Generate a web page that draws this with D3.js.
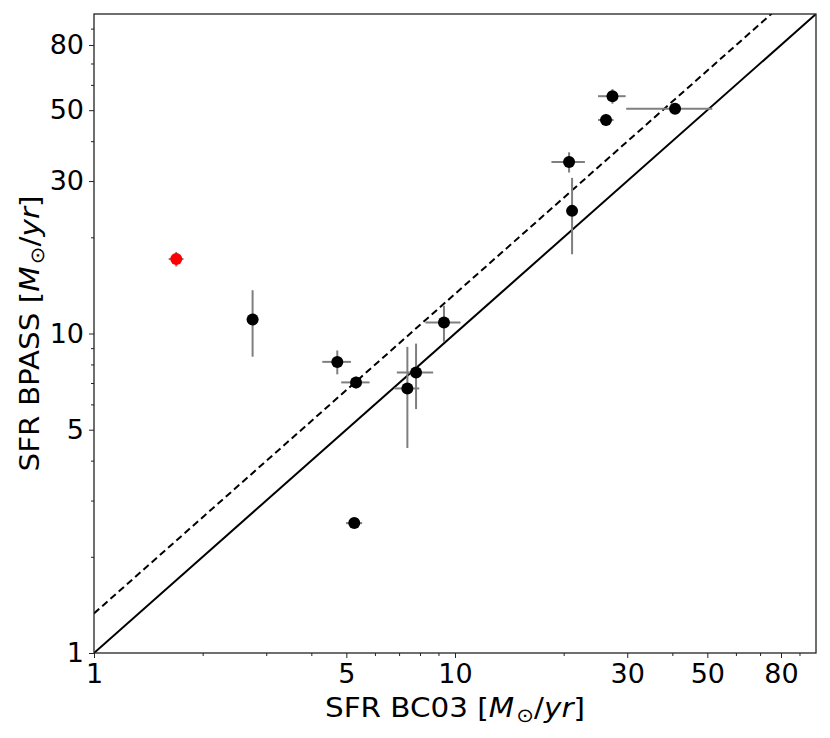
<!doctype html>
<html>
<head>
<meta charset="utf-8"/>
<script src="https://cdnjs.cloudflare.com/ajax/libs/d3/7.8.5/d3.min.js"></script>
<style>
  body { margin: 0; background: #fff; }
  text { font-family: "DejaVu Sans", sans-serif; fill: #000; }
  .errbar { stroke: #7f7f7f; stroke-width: 2px; }
</style>
</head>
<body>
<svg width="830" height="738"></svg>
<script>
// SFR from BC03 (x) and BPASS (y), in M_sun/yr
var sfrBC03    = [1.69, 2.75, 4.72, 5.32, 7.38, 7.80, 9.32, 5.26, 20.7, 21.1, 26.2, 27.3, 40.7];
var sfrBC03Err = [0.08, 0.10, 0.43, 0.48, 0.58, 0.90, 1.04, 0.27, 2.2, 0.5, 1.3, 2.4, 10.9];
var sfrBPASS    = [17.1, 11.06, 8.15, 7.03, 6.73, 7.55, 10.82, 2.55, 34.4, 24.2, 46.6, 55.3, 50.5];
var sfrBPASSErr = [0.9, 2.6, 0.7, 0.3, 2.35, 1.75, 1.4, 0.05, 2.5, 6.5, 2.0, 2.9, 1.0];
var pointColor  = ["red", "black", "black", "black", "black", "black", "black", "black", "black", "black", "black", "black", "black"];

var majorTicks = [1, 5, 10, 30, 50, 80];
var minorTicks = [2, 3, 4, 6, 7, 8, 9, 20, 40, 60, 70, 90];
var axisRange  = [1, 100];
var offsetFactor = 1.33;   // dashed line: y = 1.33 x

var mLeft = 94, mRight = 816, mTop = 14, mBottom = 653;
var labelStretch = 1.09;

var svg = d3.select("svg");

var x = d3.scaleLog().domain(axisRange).range([mLeft, mRight]);
var y = d3.scaleLog().domain(axisRange).range([mBottom, mTop]);

var points = sfrBC03.map((v, i) => ({
  x: v, xe: sfrBC03Err[i], y: sfrBPASS[i], ye: sfrBPASSErr[i], c: pointColor[i]
}));

// minor ticks
svg.append("g")
  .attr("transform", "translate(0," + mBottom + ")")
  .call(d3.axisBottom(x).tickValues(minorTicks).tickSize(3).tickFormat(""))
  .call(g => g.select(".domain").remove());
svg.append("g")
  .attr("transform", "translate(" + mLeft + ",0)")
  .call(d3.axisLeft(y).tickValues(minorTicks).tickSize(3).tickFormat(""))
  .call(g => g.select(".domain").remove());

// major ticks
var xAxis = svg.append("g")
  .attr("transform", "translate(0," + mBottom + ")")
  .call(d3.axisBottom(x).tickValues(majorTicks).tickSize(5).tickPadding(6).tickFormat(d3.format("d")));
xAxis.select(".domain").remove();
xAxis.selectAll("text").attr("font-size", 27);

var yAxis = svg.append("g")
  .attr("transform", "translate(" + mLeft + ",0)")
  .call(d3.axisLeft(y).tickValues(majorTicks).tickSize(5).tickPadding(5).tickFormat(d3.format("d")));
yAxis.select(".domain").remove();
yAxis.selectAll("text").attr("font-size", 27);

svg.selectAll(".tick line").attr("stroke", "#222");

// plot area, clipped
svg.append("clipPath").attr("id", "clip")
  .append("rect").attr("x", mLeft).attr("y", mTop).attr("width", mRight - mLeft).attr("height", mBottom - mTop);
var plotArea = svg.append("g").attr("clip-path", "url(#clip)");

// reference lines
var line = d3.line().x(d => x(d[0])).y(d => y(d[1]));
plotArea.append("path")
  .datum(axisRange.map(v => [v, v]))
  .attr("d", line)
  .attr("fill", "none").attr("stroke", "#000").attr("stroke-width", 2);
plotArea.append("path")
  .datum(axisRange.map(v => [v, v * offsetFactor]))
  .attr("d", line)
  .attr("fill", "none").attr("stroke", "#000").attr("stroke-width", 2)
  .attr("stroke-dasharray", "7,4");

// error bars
plotArea.selectAll(".xerr").data(points).enter().append("line")
  .attr("class", "errbar")
  .attr("x1", d => x(d.x - d.xe)).attr("x2", d => x(d.x + d.xe))
  .attr("y1", d => y(d.y)).attr("y2", d => y(d.y));
plotArea.selectAll(".yerr").data(points).enter().append("line")
  .attr("class", "errbar")
  .attr("x1", d => x(d.x)).attr("x2", d => x(d.x))
  .attr("y1", d => y(d.y - d.ye)).attr("y2", d => y(d.y + d.ye));

// markers
plotArea.selectAll("circle").data(points).enter().append("circle")
  .attr("cx", d => x(d.x)).attr("cy", d => y(d.y))
  .attr("r", 6)
  .attr("fill", d => d.c);

// frame
svg.append("rect")
  .attr("x", mLeft).attr("y", mTop)
  .attr("width", mRight - mLeft).attr("height", mBottom - mTop)
  .attr("fill", "none").attr("stroke", "#222").attr("stroke-width", 1.3);

// axis labels with M_sun
function unitLabel(t, name) {
  t.append("tspan").text(name + " [");
  t.append("tspan").attr("font-style", "italic").text("M");
  t.append("tspan").attr("font-size", "0.72em").attr("dy", "0.25em").attr("dx", "0.1em").text("\u2299");
  t.append("tspan").attr("dy", "-0.18em").text("/");
  t.append("tspan").attr("font-style", "italic").text("yr");
  t.append("tspan").text("]");
}

var xl = svg.append("text")
  .attr("text-anchor", "middle")
  .attr("font-size", 27)
  .attr("transform", "translate(" + ((mLeft + mRight) / 2) + ",717) scale(" + labelStretch + ",1)");
unitLabel(xl, "SFR BC03");

var yl = svg.append("text")
  .attr("text-anchor", "middle")
  .attr("font-size", 27)
  .attr("transform", "translate(39," + ((mTop + mBottom) / 2) + ") rotate(-90) scale(" + labelStretch + ",1)");
unitLabel(yl, "SFR BPASS");
</script>
</body>
</html>
